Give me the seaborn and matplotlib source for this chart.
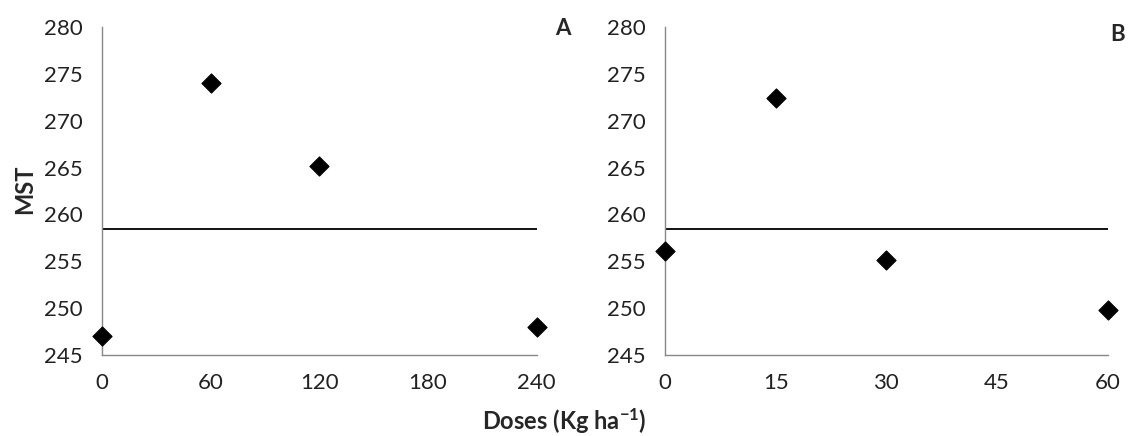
import numpy as np
import pandas as pd
import matplotlib.pyplot as plt
import seaborn as sns

# data
doses_a = [0, 60, 120, 240]
mst_a = [247.0, 274.0, 265.2, 248.0]
doses_b = [0, 15, 30, 60]
mst_b = [256.1, 272.4, 255.1, 249.8]
mean_mst = 258.4
xticks_a = [0, 60, 120, 180, 240]
xticks_b = [0, 15, 30, 45, 60]
yticks = [245, 250, 255, 260, 265, 270, 275, 280]

sns.set_style("white")
plt.rcParams['font.family'] = ['Lato', 'DejaVu Sans']
plt.rcParams['mathtext.default'] = 'regular'

fig = plt.figure(figsize=(11.29, 4.36), dpi=100)
ax_a = fig.add_axes([0.0903, 0.186, 0.385, 0.752])
ax_b = fig.add_axes([0.589, 0.186, 0.392, 0.752])

panels = [(ax_a, doses_a, mst_a, xticks_a, "A"), (ax_b, doses_b, mst_b, xticks_b, "B")]
for ax, x, y, xt, lab in panels:
    df = pd.DataFrame({"dose": x, "mst": y})
    sns.lineplot(x=[min(x), max(x)], y=[mean_mst, mean_mst], ax=ax, color="black", linewidth=1.3)
    sns.scatterplot(data=df, x="dose", y="mst", ax=ax, marker="D", s=95, color="black",
                    edgecolor="black", clip_on=False, zorder=5)
    ax.set_xlim(min(xt), max(xt))
    ax.set_ylim(245, 280)
    ax.set_xticks(xt)
    ax.set_yticks(yticks)
    ax.set_xlabel("")
    ax.set_ylabel("")
    for s in ["top", "right"]:
        ax.spines[s].set_visible(False)
    for s in ["left", "bottom"]:
        ax.spines[s].set_color("#888888")
        ax.spines[s].set_linewidth(1)
    ax.tick_params(axis="both", direction="out", length=6, width=1, color="#888888",
                   labelsize=16, labelcolor="#222222", pad=7)
    ax.tick_params(axis="y", pad=8)

fig.text(0.492, 0.935, "A", fontsize=16, fontweight="bold", ha="left", va="center")
fig.text(0.983, 0.92, "B", fontsize=16, fontweight="bold", ha="left", va="center")
fig.text(0.022, 0.565, "MST", fontsize=17, fontweight="bold", rotation=90, ha="center", va="center")
fig.text(0.5, 0.035, "Doses (Kg ha$^{-1}$)", fontsize=17, fontweight="bold", ha="center", va="center")

fig.savefig("out.png", dpi=100)
